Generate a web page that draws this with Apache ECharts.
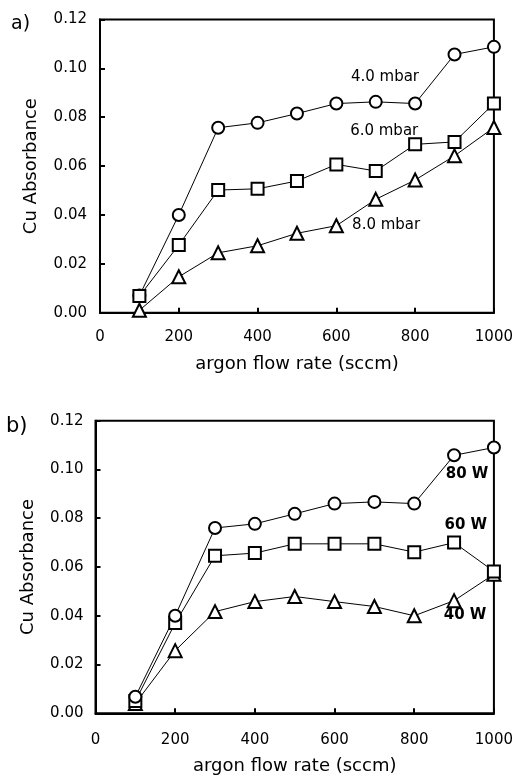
<!DOCTYPE html>
<html>
<head>
<meta charset="utf-8">
<script src="https://cdn.jsdelivr.net/npm/echarts@6/dist/echarts.min.js"></script>
<style>
html,body{margin:0;padding:0;background:#fff;}
#c{width:516px;height:778px;}
</style>
</head>
<body>
<div id="c"></div>
<script>
var flow = [100, 200, 300, 400, 500, 600, 700, 800, 900, 1000];
var xTicks = [0, 200, 400, 600, 800, 1000];
var yTicks = [0, 0.02, 0.04, 0.06, 0.08, 0.10, 0.12];

var a_4mbar = [0.007, 0.040, 0.0757, 0.0777, 0.0815, 0.0856, 0.0863, 0.0856, 0.1057, 0.1088];
var a_6mbar = [0.0068, 0.0277, 0.0502, 0.0507, 0.0539, 0.0607, 0.058, 0.0689, 0.0699, 0.0856];
var a_8mbar = [0.001, 0.0147, 0.0245, 0.0274, 0.0325, 0.0356, 0.0464, 0.0543, 0.0642, 0.0758];

var b_80W = [0.0068, 0.040, 0.076, 0.0777, 0.0818, 0.086, 0.0867, 0.086, 0.1058, 0.109];
var b_60W = [0.005, 0.037, 0.0646, 0.0657, 0.0695, 0.0695, 0.0695, 0.0661, 0.070, 0.0582];
var b_40W = [0.004, 0.0257, 0.0417, 0.0458, 0.0479, 0.0458, 0.0438, 0.040, 0.0462, 0.057];

var labelsA = ['4.0 mbar', '6.0 mbar', '8.0 mbar'];
var labelPosA = [[637, 0.0964], [635, 0.0743], [640, 0.0359]];
var labelsB = ['80 W', '60 W', '40 W'];
var labelPosB = [[879, 0.098], [876, 0.077], [874, 0.0404]];

var FONT = '"DejaVu Sans", "Liberation Sans", Arial, sans-serif';

function pairs(ys) { return flow.map(function (x, i) { return [x, ys[i]]; }); }

function xAxis(gi, margin, gap) {
  return {
    type: 'value', gridIndex: gi, min: xTicks[0], max: xTicks[xTicks.length - 1], interval: xTicks[1] - xTicks[0],
    name: 'argon flow rate (sccm)', nameLocation: 'middle', nameGap: gap,
    nameTextStyle: { fontFamily: FONT, fontSize: 18, color: '#000' },
    axisLine: { show: true, lineStyle: { color: '#000', width: 2 } },
    axisTick: { show: true, inside: true, length: 5, lineStyle: { color: '#000', width: 2 } },
    axisLabel: { fontFamily: FONT, fontSize: 15, color: '#000', margin: margin,
      formatter: function (v) { return String(v); } },
    splitLine: { show: false }
  };
}
function yAxis(gi, margin, gap) {
  return {
    type: 'value', gridIndex: gi, min: yTicks[0], max: yTicks[yTicks.length - 1], interval: 0.02,
    name: 'Cu Absorbance', nameLocation: 'middle', nameGap: gap,
    nameTextStyle: { fontFamily: FONT, fontSize: 18, color: '#000' },
    axisLine: { show: true, lineStyle: { color: '#000', width: 2 } },
    axisTick: { show: true, inside: true, length: 5, lineStyle: { color: '#000', width: 2 } },
    axisLabel: { fontFamily: FONT, fontSize: 15, color: '#000', margin: margin,
      formatter: function (v) { return v.toFixed(2); } },
    splitLine: { show: false }
  };
}
function series(gi, ys, symbol, size, label, pos, bold) {
  return {
    type: 'line', xAxisIndex: gi, yAxisIndex: gi, data: pairs(ys),
    symbol: symbol, symbolSize: size, showAllSymbol: true,
    lineStyle: { color: '#000', width: 1 },
    itemStyle: { color: '#fff', borderColor: '#000', borderWidth: 2 },
    animation: false,
    markPoint: {
      symbol: 'circle', symbolSize: 0, animation: false,
      data: [{ coord: pos, value: label }],
      label: { show: true, position: 'right', distance: 0, formatter: label,
        fontFamily: FONT, fontSize: 15, color: '#000', fontWeight: bold ? 'bold' : 'normal' }
    }
  };
}

var chart = echarts.init(document.getElementById('c'), null, { renderer: 'canvas' });
chart.setOption({
  backgroundColor: '#fff',
  animation: false,
  grid: [
    { left: 100, right: 16, top: 19.5, bottom: 465.3, show: true, borderColor: '#000', borderWidth: 2 },
    { left: 95.5, right: 20.5, top: 420.7, bottom: 64.7, show: true, borderColor: '#000', borderWidth: 2 }
  ],
  xAxis: [xAxis(0, 17, 43), xAxis(1, 19, 44)],
  yAxis: [yAxis(0, 13, 60), yAxis(1, 12, 58)],
  graphic: [
    { type: 'text', left: 11, top: 15, style: { text: 'a)', font: '19px ' + FONT, fill: '#000' } },
    { type: 'text', left: 6, top: 416, style: { text: 'b)', font: '21px ' + FONT, fill: '#000' } }
  ],
  series: [
    series(0, a_4mbar, 'circle', 12, labelsA[0], labelPosA[0], false),
    series(0, a_6mbar, 'rect', 12, labelsA[1], labelPosA[1], false),
    series(0, a_8mbar, 'triangle', 13, labelsA[2], labelPosA[2], false),
    series(1, b_40W, 'triangle', 13, labelsB[2], labelPosB[2], true),
    series(1, b_60W, 'rect', 12, labelsB[1], labelPosB[1], true),
    series(1, b_80W, 'circle', 12, labelsB[0], labelPosB[0], true)
  ]
});
</script>
</body>
</html>
